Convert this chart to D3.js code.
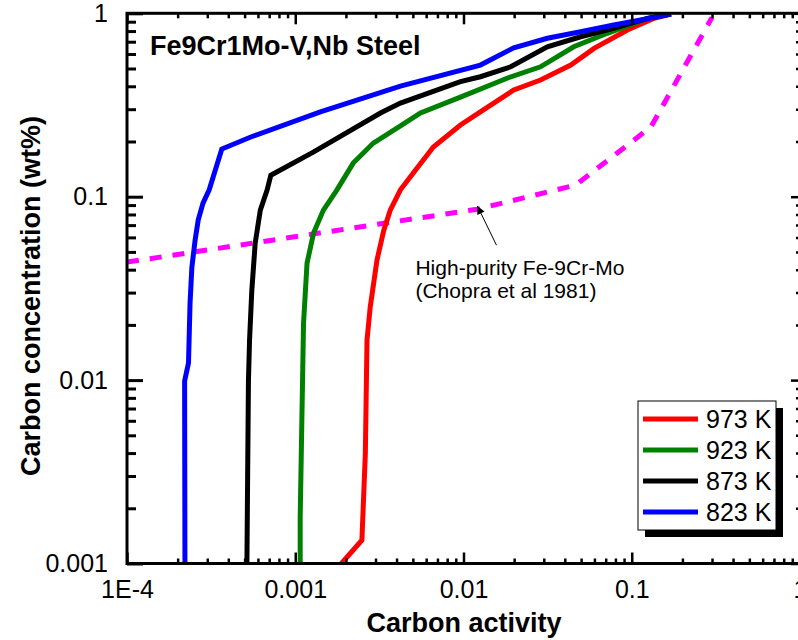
<!DOCTYPE html>
<html>
<head>
<meta charset="utf-8">
<script src="https://cdn.jsdelivr.net/npm/d3@7"></script>
<style>
  body { margin: 0; background: #fff; }
  svg { display: block; font-family: "Liberation Sans", Arial, Helvetica, sans-serif; }
</style>
</head>
<body>
<svg id="chart" width="798" height="640"></svg>
<script>
// Axis ticks
const xTickValues = [1e-4, 1e-3, 1e-2, 1e-1, 1];
const xTickLabels = ["1E-4", "0.001", "0.01", "0.1", "1"];
const yTickValues = [0.001, 0.01, 0.1, 1];
const yTickLabels = ["0.001", "0.01", "0.1", "1"];

// Carbon activity vs. carbon concentration (wt%) for each temperature
const act973 = [1.88e-3, 2.49e-3, 2.61e-3, 2.67e-3, 2.79e-3, 3.06e-3, 3.36e-3, 3.67e-3, 4.22e-3, 5.03e-3,
                6.62e-3, 9.59e-3, 0.0126, 0.0199, 0.0287, 0.0434, 0.0597, 0.0942, 0.136, 0.171];
const conc973 = [0.001, 0.00134, 0.00399, 0.0165, 0.025, 0.0451, 0.0657, 0.0845, 0.109, 0.1345,
                 0.1865, 0.246, 0.290, 0.382, 0.433, 0.522, 0.644, 0.811, 0.939, 0.99];

const act923 = [1.07e-3, 1.07e-3, 1.12e-3, 1.175e-3, 1.285e-3, 1.47e-3, 1.77e-3, 2.21e-3, 2.91e-3,
                4.22e-3, 5.55e-3, 9.59e-3, 0.0183, 0.0287, 0.0452, 0.0716, 0.124, 0.171];
const conc923 = [0.001, 0.00179, 0.0204, 0.0434, 0.0633, 0.0845, 0.109, 0.1525, 0.196,
                 0.243, 0.286, 0.349, 0.444, 0.511, 0.657, 0.778, 0.939, 0.99];

const act873 = [5.16e-4, 5.27e-4, 5.35e-4, 5.52e-4, 5.78e-4, 6.20e-4, 6.81e-4, 7.16e-4, 1.28e-3,
                3.21e-3, 4.22e-3, 9.59e-3, 0.0126, 0.0191, 0.0315, 0.0497, 0.0782, 0.124, 0.171];
const conc873 = [0.001, 0.0099, 0.0165, 0.0309, 0.0558, 0.0845, 0.109, 0.131, 0.175,
                 0.286, 0.324, 0.424, 0.451, 0.511, 0.657, 0.745, 0.828, 0.939, 0.99];

const act823 = [2.21e-4, 2.20e-4, 2.32e-4, 2.37e-4, 2.43e-4, 2.54e-4, 2.65e-4, 2.83e-4, 3.08e-4, 3.66e-4,
                5.40e-4, 1.41e-3, 4.22e-3, 0.0126, 0.0199, 0.0315, 0.0497, 0.0782, 0.113, 0.171];
const conc823 = [0.001, 0.0099, 0.0124, 0.0263, 0.0413, 0.058, 0.0745, 0.0923, 0.109, 0.182,
                 0.211, 0.290, 0.401, 0.522, 0.649, 0.731, 0.794, 0.864, 0.919, 0.99];

// High-purity Fe-9Cr-Mo reference curve (Chopra et al 1981)
const actChopra = [1e-4, 0.0121, 0.0464, 0.130, 0.30];
const concChopra = [0.044, 0.0855, 0.1157, 0.240, 0.95];

const seriesNames = ["973 K", "923 K", "873 K", "823 K"];
const seriesColors = ["#ff0000", "#008000", "#000000", "#0000ff"];
const seriesAct = [act973, act923, act873, act823];
const seriesConc = [conc973, conc923, conc873, conc823];

const svg = d3.select("#chart");
const plot = { left: 127, right: 800, top: 13.3, bottom: 563.5 };

const x = d3.scaleLog().domain([1e-4, 1]).range([plot.left, plot.right]);
const y = d3.scaleLog().domain([0.001, 1]).range([plot.bottom, plot.top]);

const xMinor = x.ticks().filter(v => !xTickValues.some(t => Math.abs(t - v) / t < 1e-9));
const yMinor = y.ticks().filter(v => !yTickValues.some(t => Math.abs(t - v) / t < 1e-9));

svg.append("defs").append("clipPath").attr("id", "plotClip")
  .append("rect")
  .attr("x", plot.left).attr("y", plot.top)
  .attr("width", plot.right - plot.left).attr("height", plot.bottom - plot.top);

svg.select("defs").append("marker")
  .attr("id", "arrowHead")
  .attr("viewBox", "0 0 10 10")
  .attr("refX", 10).attr("refY", 5)
  .attr("markerWidth", 10).attr("markerHeight", 8)
  .attr("markerUnits", "userSpaceOnUse")
  .attr("orient", "auto")
  .append("path").attr("d", "M0,0 L10,5 L0,10 Z").attr("fill", "#000");

// Curves
const line = d3.line().x(d => x(d[0])).y(d => y(d[1]));
const curves = svg.append("g").attr("clip-path", "url(#plotClip)");

curves.append("path")
  .datum(actChopra.map((a, i) => [a, concChopra[i]]))
  .attr("d", line)
  .attr("fill", "none")
  .attr("stroke", "#ff00ff")
  .attr("stroke-width", 5)
  .attr("stroke-dasharray", "12,11");

seriesAct.forEach((acts, k) => {
  curves.append("path")
    .datum(acts.map((a, i) => [a, seriesConc[k][i]]))
    .attr("d", line)
    .attr("fill", "none")
    .attr("stroke", seriesColors[k])
    .attr("stroke-width", 5)
    .attr("stroke-linejoin", "miter");
});

// Axes: ticks point inward on all four sides
function styleAxis(g, width) {
  g.select(".domain").remove();
  g.selectAll(".tick line").attr("stroke", "#000").attr("stroke-width", width);
}

// bottom
svg.append("g").attr("transform", `translate(0,${plot.bottom})`)
  .call(d3.axisBottom(x).tickValues(xMinor).tickSize(-5).tickFormat(""))
  .call(g => styleAxis(g, 2.5));
svg.append("g").attr("transform", `translate(0,${plot.bottom})`)
  .call(d3.axisBottom(x).tickValues(xTickValues).tickSize(-11).tickPadding(17)
    .tickFormat((d, i) => xTickLabels[i]))
  .call(g => {
    styleAxis(g, 2.5);
    g.selectAll("text").attr("font-size", 25).attr("fill", "#000")
      .attr("font-family", "'Liberation Sans', Arial, sans-serif");
  });

// top
svg.append("g").attr("transform", `translate(0,${plot.top})`)
  .call(d3.axisTop(x).tickValues(xMinor).tickSize(-5).tickFormat(""))
  .call(g => styleAxis(g, 2.5));
svg.append("g").attr("transform", `translate(0,${plot.top})`)
  .call(d3.axisTop(x).tickValues(xTickValues).tickSize(-11).tickFormat(""))
  .call(g => styleAxis(g, 2.5));

// left
svg.append("g").attr("transform", `translate(${plot.left},0)`)
  .call(d3.axisLeft(y).tickValues(yMinor).tickSize(-9).tickFormat(""))
  .call(g => styleAxis(g, 3));
svg.append("g").attr("transform", `translate(${plot.left},0)`)
  .call(d3.axisLeft(y).tickValues(yTickValues).tickSize(-16).tickPadding(19)
    .tickFormat((d, i) => yTickLabels[i]))
  .call(g => {
    styleAxis(g, 3);
    g.selectAll("text").attr("font-size", 25).attr("fill", "#000")
      .attr("font-family", "'Liberation Sans', Arial, sans-serif");
  });

// right
svg.append("g").attr("transform", `translate(${plot.right},0)`)
  .call(d3.axisRight(y).tickValues(yMinor).tickSize(-4).tickFormat(""))
  .call(g => styleAxis(g, 2.5));
svg.append("g").attr("transform", `translate(${plot.right},0)`)
  .call(d3.axisRight(y).tickValues(yTickValues).tickSize(-9).tickFormat(""))
  .call(g => styleAxis(g, 2.5));

// frame
svg.append("rect")
  .attr("x", plot.left).attr("y", plot.top)
  .attr("width", plot.right - plot.left).attr("height", plot.bottom - plot.top)
  .attr("fill", "none").attr("stroke", "#000").attr("stroke-width", 3);

// Axis titles
svg.append("text")
  .attr("x", 464).attr("y", 632)
  .attr("text-anchor", "middle")
  .attr("font-size", 27).attr("font-weight", "bold")
  .text("Carbon activity");

svg.append("text")
  .attr("transform", "translate(40,296) rotate(-90)")
  .attr("text-anchor", "middle")
  .attr("font-size", 27).attr("font-weight", "bold")
  .text("Carbon concentration (wt%)");

// Chart title inside the plot
svg.append("text")
  .attr("x", 150).attr("y", 55)
  .attr("font-size", 27).attr("font-weight", "bold")
  .text("Fe9Cr1Mo-V,Nb Steel");

// Annotation for the reference curve
const arrowTip = [0.0121, 0.0889];
const arrowTail = [0.0157, 0.0544];
svg.append("line")
  .attr("x1", x(arrowTail[0])).attr("y1", y(arrowTail[1]))
  .attr("x2", x(arrowTip[0])).attr("y2", y(arrowTip[1]))
  .attr("stroke", "#000").attr("stroke-width", 1)
  .attr("marker-end", "url(#arrowHead)");

const note = svg.append("text")
  .attr("font-size", 21).attr("fill", "#000");
note.append("tspan").attr("x", x(arrowTail[0]) - 81).attr("y", y(arrowTail[1]) + 30)
  .text("High-purity Fe-9Cr-Mo");
note.append("tspan").attr("x", x(arrowTail[0]) - 81).attr("y", y(arrowTail[1]) + 53)
  .text("(Chopra et al 1981)");

// Legend with drop shadow
const legend = svg.append("g").attr("transform", "translate(638,401)");
legend.append("rect")
  .attr("x", 7).attr("y", 7).attr("width", 138).attr("height", 129)
  .attr("fill", "#000");
legend.append("rect")
  .attr("x", 0).attr("y", 0).attr("width", 138).attr("height", 129)
  .attr("fill", "#fff").attr("stroke", "#000").attr("stroke-width", 1);

seriesNames.forEach((name, i) => {
  const ly = 18 + i * 31;
  legend.append("line")
    .attr("x1", 5).attr("x2", 60).attr("y1", ly).attr("y2", ly)
    .attr("stroke", seriesColors[i]).attr("stroke-width", 5);
  legend.append("text")
    .attr("x", 68).attr("y", ly + 9)
    .attr("font-size", 25).attr("fill", "#000")
    .text(name);
});
</script>
</body>
</html>
